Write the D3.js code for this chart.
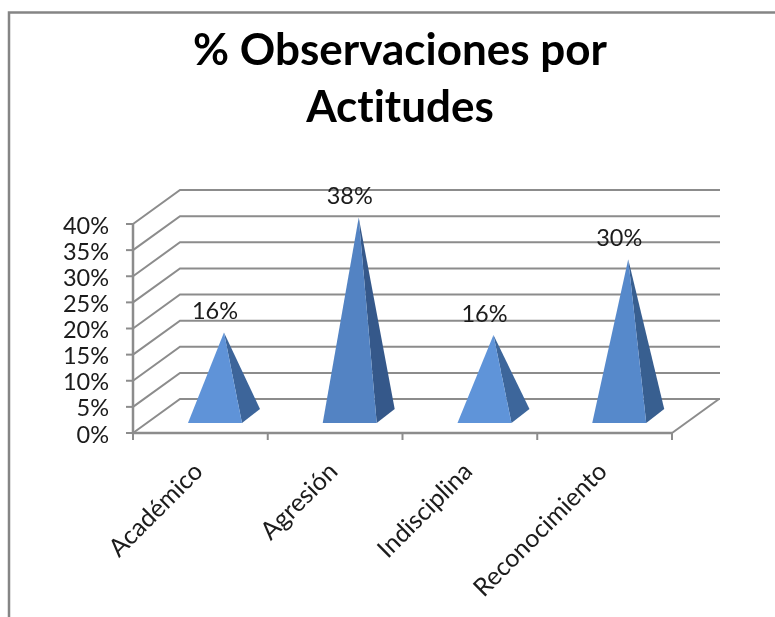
<!DOCTYPE html>
<html>
<head>
<meta charset="utf-8">
<script src="https://cdn.jsdelivr.net/npm/d3@7"></script>
<style>
  html, body { margin: 0; padding: 0; background: white; }
  text { font-family: Lato, Carlito, sans-serif; fill: #1a1a1a; font-variant-ligatures: none; }
</style>
</head>
<body>
<svg id="chart" width="775" height="617"></svg>
<script>
const titleLines = ['% Observaciones por', 'Actitudes']
const categories = ['Académico', 'Agresión', 'Indisciplina', 'Reconocimiento']
const values = [16, 38, 15.5, 30]
const valueLabels = ['16%', '38%', '16%', '30%']
const yTicks = [0, 5, 10, 15, 20, 25, 30, 35, 40]

const root = d3.select('#chart')

// the reference is a slightly blurred screenshot
root.append('defs')
  .append('filter')
  .attr('id', 'soft')
  .append('feGaussianBlur')
  .attr('stdDeviation', 0.45)

const svg = root.append('g').attr('filter', 'url(#soft)')

// picture frame, only top and left are visible
svg.append('path')
  .attr('d', 'M9,617V12.5H775')
  .attr('fill', 'none')
  .attr('stroke', '#858585')
  .attr('stroke-width', 2.5)

svg.append('g')
  .selectAll('text')
  .data(titleLines)
  .join('text')
  .attr('x', 400)
  .attr('y', (d, i) => 65 + i * 57)
  .attr('text-anchor', 'middle')
  .attr('font-size', 44)
  .attr('font-weight', 700)
  .style('fill', '#000')
  .text(d => d)

// scales for the front plane of the 3D box
const y = d3.scaleLinear().domain([0, 40]).range([433, 224])
const x = d3.scaleBand().domain(categories).range([133, 672])
const depth = { dx: 47, dy: -34 }

const grid = svg.append('g')
  .attr('stroke', '#8c8c8c')
  .attr('stroke-width', 2)
  .attr('fill', 'none')

// walls
grid.selectAll('path.wall')
  .data(yTicks)
  .join('path')
  .attr('class', 'wall')
  .attr('d', d => `M${x.range()[0]},${y(d)}l${depth.dx},${depth.dy}H${x.range()[1] + depth.dx + 1}`)

// floor right edge
grid.append('path')
  .attr('d', `M${x.range()[1]},${y(0)}L${x.range()[1] + depth.dx},${y(0) + depth.dy}`)

// y axis
grid.append('path')
  .attr('stroke-width', 2.5)
  .attr('d', `M${x.range()[0]},${y(40)}V${y(0)}H${x.range()[1]}`)

grid.selectAll('line.ytick')
  .data(yTicks)
  .join('line')
  .attr('class', 'ytick')
  .attr('x1', 126)
  .attr('x2', 133)
  .attr('y1', d => y(d))
  .attr('y2', d => y(d))

grid.selectAll('line.xtick')
  .data(d3.range(categories.length + 1))
  .join('line')
  .attr('class', 'xtick')
  .attr('x1', i => 133 + i * x.bandwidth())
  .attr('x2', i => 133 + i * x.bandwidth())
  .attr('y1', 433)
  .attr('y2', 440)

svg.append('g')
  .selectAll('text')
  .data(yTicks)
  .join('text')
  .attr('x', 109)
  .attr('y', d => y(d) + 9.5)
  .attr('text-anchor', 'end')
  .attr('font-size', 23.5)
  .text(d => d + '%')

// pyramids, short ones are a bit lighter
const frontColor = d3.scaleLinear().domain([15, 38]).range(['#5f94d9', '#5283c3'])
const sideColor = d3.scaleLinear().domain([15, 38]).range(['#3c669b', '#36598a'])

const pyr = svg.append('g')
  .selectAll('g')
  .data(categories)
  .join('g')

const baseFront = 423
const baseW = 54
const baseDx = 18
const baseDy = -14
const left = d => x(d) + (x.bandwidth() - baseW) / 2 + 14.6
const apex = (d, i) => [left(d) + (baseW + baseDx) / 2, baseFront + baseDy / 2 - (y(0) - y(values[i]))]

pyr.append('path')
  .attr('fill', (d, i) => sideColor(values[i]))
  .attr('d', (d, i) => {
    const a = apex(d, i)
    return `M${left(d) + baseW},${baseFront}L${left(d) + baseW + baseDx},${baseFront + baseDy}L${a[0]},${a[1]}Z`
  })

pyr.append('path')
  .attr('fill', (d, i) => frontColor(values[i]))
  .attr('d', (d, i) => {
    const a = apex(d, i)
    return `M${left(d)},${baseFront}L${left(d) + baseW},${baseFront}L${a[0]},${a[1]}Z`
  })

pyr.append('text')
  .attr('x', (d, i) => apex(d, i)[0] - 9)
  .attr('y', (d, i) => apex(d, i)[1] - 13)
  .attr('text-anchor', 'middle')
  .attr('font-size', 23.5)
  .text((d, i) => valueLabels[i])

// category labels, rotated, end of the text under the tick centre
svg.append('g')
  .selectAll('text')
  .data(categories)
  .join('text')
  .attr('text-anchor', 'end')
  .attr('font-size', 25)
  .attr('transform', d => `translate(${x(d) + x.bandwidth() / 2 + 4},${473}) rotate(-45)`)
  .text(d => d)
</script>
</body>
</html>
